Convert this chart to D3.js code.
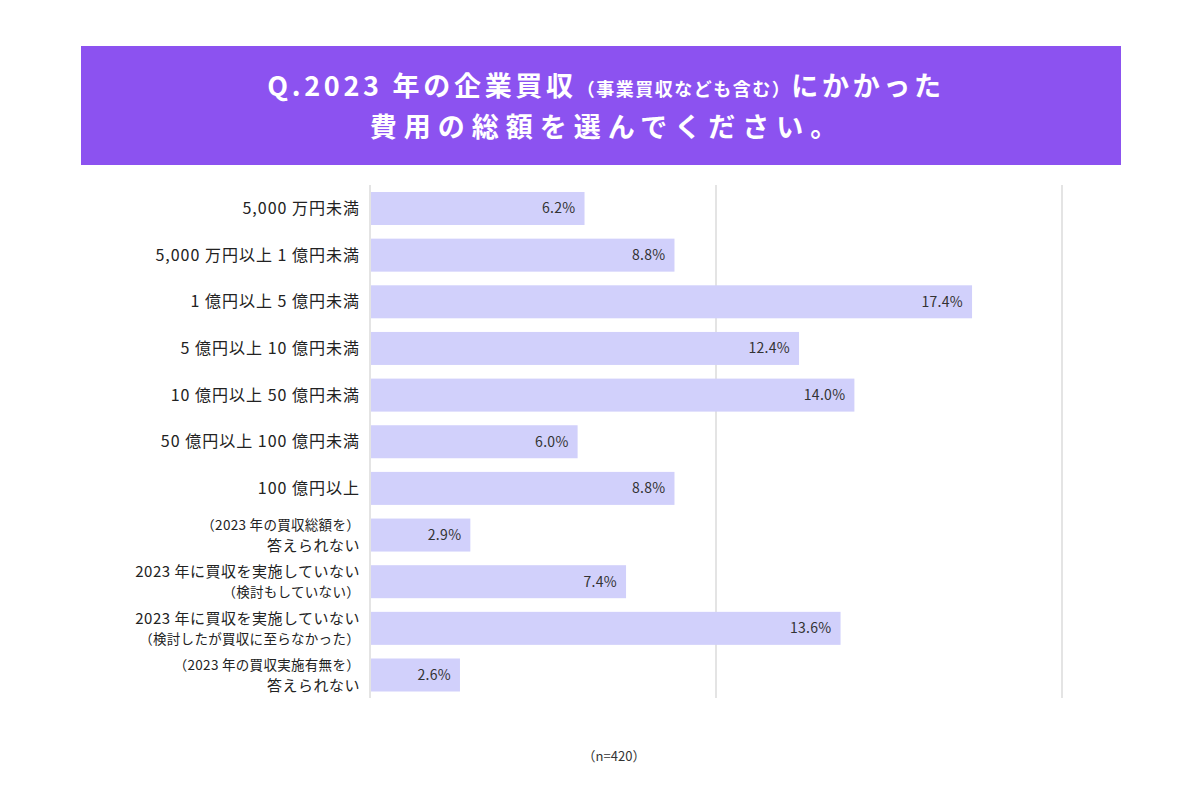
<!DOCTYPE html>
<html lang="ja">
<head>
<meta charset="utf-8">
<script src="https://cdn.jsdelivr.net/npm/d3@7"></script>
<style>
  body { margin: 0; background: #fff; }
  svg { display: block; font-family: "Noto Sans CJK JP", "Noto Sans", sans-serif; }
</style>
</head>
<body>
<div id="chart"></div>
<script>
// categories (each line of a label split by \n)
const categories = [
  '5,000 万円未満',
  '5,000 万円以上 1 億円未満',
  '1 億円以上 5 億円未満',
  '5 億円以上 10 億円未満',
  '10 億円以上 50 億円未満',
  '50 億円以上 100 億円未満',
  '100 億円以上',
  '（2023 年の買収総額を）\n答えられない',
  '2023 年に買収を実施していない\n（検討もしていない）',
  '2023 年に買収を実施していない\n（検討したが買収に至らなかった）',
  '（2023 年の買収実施有無を）\n答えられない'
];
const values = [6.2, 8.8, 17.4, 12.4, 14.0, 6.0, 8.8, 2.9, 7.4, 13.6, 2.6];
const gridTicks = [10, 20];
const note = '（n=420）';

const width = 1200, height = 800;
const margin = { top: 185, right: 138, bottom: 102, left: 370 };

const svg = d3.select('#chart').append('svg')
  .attr('width', width)
  .attr('height', height);

// title banner
svg.append('rect')
  .attr('x', 81).attr('y', 46)
  .attr('width', 1040).attr('height', 119)
  .attr('fill', '#8c52f0');

const title = svg.append('text')
  .attr('x', 606).attr('y', 96)
  .attr('text-anchor', 'middle')
  .attr('fill', '#fff')
  .attr('font-weight', 'bold')
  .attr('letter-spacing', 3.7);
title.append('tspan').attr('font-size', 27).text('Q.2023 年の企業買収');
title.append('tspan').attr('font-size', 18).attr('letter-spacing', 1.5).text('（事業買収なども含む）');
title.append('tspan').attr('font-size', 27).text('にかかった');

svg.append('text')
  .attr('x', 607).attr('y', 137)
  .attr('text-anchor', 'middle')
  .attr('fill', '#fff')
  .attr('font-weight', 'bold')
  .attr('font-size', 27)
  .attr('letter-spacing', 7)
  .text('費用の総額を選んでください。');

// scales
const x = d3.scaleLinear()
  .domain([0, 20])
  .range([margin.left, width - margin.right]);

const y = d3.scaleBand()
  .domain(categories)
  .range([192, 691.5])
  .paddingInner(0.2926)
  .paddingOuter(0);

// grid lines
svg.append('g')
  .selectAll('line')
  .data(gridTicks)
  .join('line')
  .attr('x1', d => x(d)).attr('x2', d => x(d))
  .attr('y1', margin.top).attr('y2', height - margin.bottom)
  .attr('stroke', '#e4e4e4')
  .attr('stroke-width', 2);

// bars
svg.append('g')
  .selectAll('rect')
  .data(values)
  .join('rect')
  .attr('x', x(0))
  .attr('y', (d, i) => y(categories[i]))
  .attr('width', d => x(d) - x(0))
  .attr('height', y.bandwidth())
  .attr('fill', '#d1d0fb');

// zero axis line
svg.append('line')
  .attr('x1', x(0)).attr('x2', x(0))
  .attr('y1', margin.top).attr('y2', height - margin.bottom)
  .attr('stroke', '#e4e4e4')
  .attr('stroke-width', 2);

// value labels
svg.append('g')
  .selectAll('text')
  .data(values)
  .join('text')
  .attr('x', d => x(d) - 9)
  .attr('y', (d, i) => y(categories[i]) + y.bandwidth() / 2)
  .attr('dy', '0.35em')
  .attr('text-anchor', 'end')
  .attr('font-size', 14)
  .attr('letter-spacing', 0.3)
  .attr('fill', '#333')
  .text(d => d.toFixed(1) + '%');

// category labels
const labels = svg.append('g')
  .selectAll('text')
  .data(categories)
  .join('text')
  .attr('text-anchor', 'end')
  .attr('fill', '#222');

labels.each(function(d) {
  const lines = d.split('\n');
  const cy = y(d) + y.bandwidth() / 2;
  const t = d3.select(this);
  lines.forEach((line, j) => {
    const small = line.startsWith('（');
    const single = lines.length === 1;
    const offset = single ? 0 : (j === 0 ? -10 : 11);
    t.append('tspan')
      .attr('x', margin.left - 10)
      .attr('y', cy + offset)
      .attr('dy', '0.35em')
      .attr('font-size', single ? 16 : (small ? 13.5 : 15))
      .attr('letter-spacing', single ? 1 : (small ? 0.3 : 0.5))
      .text(line);
  });
});

// sample size
svg.append('text')
  .attr('x', 614).attr('y', 761)
  .attr('text-anchor', 'middle')
  .attr('font-size', 13)
  .attr('fill', '#333')
  .text(note);
</script>
</body>
</html>
